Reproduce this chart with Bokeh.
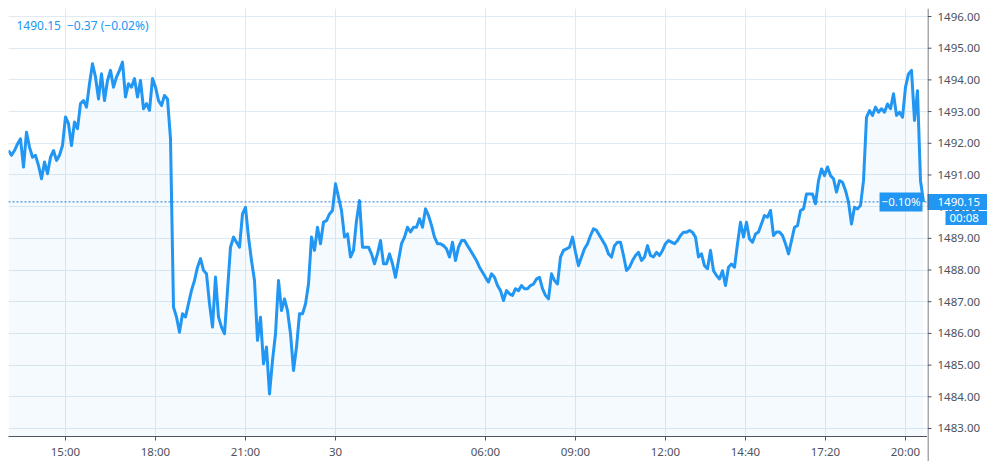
import numpy as np
from bokeh.plotting import figure
from bokeh.layouts import row
from bokeh.models import FixedTicker, Span, Label, Range1d
from bokeh.embed import file_html
from bokeh.resources import INLINE

# ---- data -------------------------------------------------------------
session_start = "13:06"   # first sample, 29th
step_min = 6              # minutes between samples (trading time)

price = [
    1491.77, 1491.62, 1491.77, 1491.98, 1492.14, 1491.25, 1492.35, 1491.88, 1491.56, 1491.62,
    1491.30, 1490.88, 1491.41, 1491.04, 1491.56, 1491.77, 1491.46, 1491.62, 1491.93, 1492.83,
    1492.62, 1491.93, 1492.67, 1492.46, 1493.25, 1493.35, 1493.14, 1493.88, 1494.51, 1494.09,
    1493.40, 1494.19, 1493.35, 1493.98, 1494.30, 1493.77, 1494.09, 1494.30, 1494.56, 1493.46,
    1493.88, 1493.77, 1494.04, 1493.46, 1493.98, 1493.09, 1493.25, 1493.04, 1494.04, 1493.77,
    1493.35, 1493.19, 1493.51, 1493.40, 1492.14, 1486.83, 1486.52, 1486.04, 1486.62, 1486.52,
    1486.94, 1487.36, 1487.67, 1488.09, 1488.36, 1487.99, 1487.88, 1486.94, 1486.20, 1487.78,
    1486.52, 1486.20, 1485.99, 1487.36, 1488.72, 1489.04, 1488.88,
    1488.72, 1489.77, 1489.98, 1489.04, 1488.30, 1487.67, 1485.78, 1486.51, 1485.04, 1485.57,
    1484.09, 1485.15, 1485.99, 1487.67, 1486.72, 1487.09, 1486.72, 1485.99, 1484.83, 1485.57,
    1486.62, 1486.62, 1486.93, 1487.56, 1489.04, 1488.62, 1489.35, 1488.83, 1489.51, 1489.56,
    1489.77, 1489.88, 1490.72, 1490.30, 1489.88, 1489.04, 1489.14, 1488.41, 1488.62, 1489.56,
    1490.19, 1488.72, 1488.72, 1488.72, 1488.51, 1488.20, 1488.51, 1488.93, 1488.20, 1488.20,
    1488.51, 1488.20, 1487.77, 1488.30, 1488.83, 1489.04, 1489.35, 1489.20, 1489.35, 1489.35,
    1489.62, 1489.35, 1489.93, 1489.72, 1489.41, 1489.04, 1488.83, 1488.83, 1488.77, 1488.67,
    1488.41, 1488.88, 1488.30, 1488.72, 1488.93, 1488.93,
    1488.77, 1488.62, 1488.46, 1488.30, 1488.09, 1487.93, 1487.77, 1487.62, 1487.88, 1487.77,
    1487.51, 1487.35, 1487.04, 1487.35, 1487.25, 1487.20, 1487.41, 1487.35, 1487.51, 1487.41,
    1487.41, 1487.51, 1487.56, 1487.72, 1487.77, 1487.41, 1487.20, 1487.09, 1487.88, 1487.67,
    1487.56, 1488.41, 1488.62, 1488.67, 1488.72, 1489.04, 1488.56, 1488.14, 1488.41, 1488.67,
    1488.83, 1489.09, 1489.30, 1489.25, 1489.09, 1488.93, 1488.77, 1488.51, 1488.41, 1488.77,
    1488.88, 1488.88, 1488.46, 1487.99, 1488.09, 1488.30, 1488.46, 1488.56, 1488.30, 1488.41,
    1488.77, 1488.46, 1488.41, 1488.56, 1488.46, 1488.62, 1488.83, 1488.93, 1488.88, 1488.83,
    1488.93, 1489.09, 1489.19, 1489.19, 1489.25, 1489.19,
    1489.04, 1488.41, 1488.51, 1488.14, 1488.04, 1488.62, 1487.98, 1487.83, 1487.72, 1487.98,
    1487.51, 1488.09, 1488.19, 1488.09, 1488.83, 1489.51, 1489.04, 1489.51, 1488.98, 1488.88,
    1489.14, 1489.20, 1489.46, 1489.72, 1489.67, 1489.88, 1489.09, 1489.20, 1489.20, 1489.09,
    1488.83, 1488.51, 1488.93, 1489.35, 1489.40, 1489.88, 1489.93, 1490.40, 1490.40, 1490.40,
    1490.09, 1490.82, 1491.19, 1490.98, 1491.25, 1490.98, 1490.88, 1490.46, 1490.82, 1490.77,
    1490.51, 1490.14, 1489.45, 1489.98, 1489.93, 1490.04, 1490.82, 1492.82, 1493.03, 1492.88,
    1493.14, 1492.98, 1493.09, 1492.98, 1493.24, 1493.09, 1493.56, 1492.88, 1492.98, 1492.82,
    1493.77, 1494.19, 1494.30, 1492.72, 1493.66, 1490.82, 1490.15,
]

# x tick positions in trading minutes after session_start (1h break skipped before 06:00)
tick_minutes = [114, 294, 474, 654, 954, 1134, 1314, 1474, 1634, 1794]
tick_labels = ["15:00", "18:00", "21:00", "30", "06:00", "09:00", "12:00", "14:40", "17:20", "20:00"]

y_ticks = [1483, 1484, 1485, 1486, 1487, 1488, 1489, 1490, 1491, 1492, 1493, 1494, 1495, 1496]

last_price = 1490.15
header_text = "1490.15\u2002\u22120.37 (\u22120.02%)"
pct_text = "\u22120.10%"
countdown = "00:08"

# ---- styling -----------------------------------------------------------
BLUE = "#2196f3"
GRID = "#e0eaf2"
AXIS = "#50535e"
TXT = "#4c525e"
FONT = "Noto Sans"
FS = "11.5px"

FRAME_H = 428
BOTTOM = 25
TOP = 8
S = 31.69                       # pixels per price unit
Y0 = y_ticks[0] - 8 / S
Y1 = y_ticks[-1] + 8 / S
X_END = 1838

x = np.arange(len(price)) * step_min

# ---- main chart ------------------------------------------------------------
p = figure(frame_width=919, frame_height=FRAME_H, output_backend="svg", toolbar_location=None,
           x_range=Range1d(0, X_END), y_range=Range1d(Y0, Y1), y_axis_location=None,
           min_border_left=8, min_border_top=TOP, min_border_bottom=BOTTOM, min_border_right=0)
p.outline_line_color = None
p.background_fill_color = "white"
p.border_fill_color = "white"

p.varea(x=x, y1=Y0, y2=price, fill_color=BLUE, fill_alpha=0.05)
p.line(x, price, line_color=BLUE, line_width=3, line_join="round")

p.add_layout(Span(location=last_price, dimension="width", line_color="#1f78d1",
                  line_width=1, line_dash="2 2"))

xa = p.xaxis[0]
xa.ticker = FixedTicker(ticks=tick_minutes)
xa.major_label_overrides = {t: l for t, l in zip(tick_minutes, tick_labels)}
xa.axis_line_color = AXIS
xa.major_tick_line_color = AXIS
xa.minor_tick_line_color = None
xa.major_tick_in = 0
xa.major_tick_out = 4
xa.major_label_text_color = TXT
xa.major_label_text_font = FONT
xa.major_label_text_font_size = FS
xa.major_label_standoff = 3

p.xgrid.ticker = FixedTicker(ticks=tick_minutes)
p.xgrid.grid_line_color = GRID
p.ygrid.ticker = FixedTicker(ticks=y_ticks)
p.ygrid.grid_line_color = GRID

p.add_layout(Label(x=8, y=FRAME_H - 17, x_units="screen", y_units="screen", text=header_text,
                   text_color=BLUE, text_font=FONT, text_font_size="12px",
                   text_baseline="middle"))
p.add_layout(Label(x=914, y=last_price, x_units="screen", text=pct_text, text_color="white",
                   text_font=FONT, text_font_size=FS, text_align="right",
                   text_baseline="middle", background_fill_color=BLUE, padding=2))

# ---- price scale (right side) ---------------------------------------------
SW = 60
q = figure(frame_width=SW, frame_height=FRAME_H + BOTTOM, output_backend="svg",
           toolbar_location=None, x_range=Range1d(0, SW),
           y_range=Range1d(Y0 - BOTTOM / S, Y1),
           x_axis_location=None, y_axis_location=None,
           min_border_left=0, min_border_top=TOP, min_border_bottom=0, min_border_right=0)
q.outline_line_color = None
q.grid.visible = False
q.background_fill_color = "white"
q.border_fill_color = "white"

q.add_layout(Span(location=0.5, dimension="height", line_color=AXIS, line_width=1))
q.segment(x0=0, x1=4, y0=y_ticks, y1=y_ticks, line_color=AXIS, line_width=1)
q.text(x=10, y=y_ticks, text=[f"{t:.2f}" for t in y_ticks], text_color=TXT,
       text_font={"value": FONT}, text_font_size=FS, text_baseline="middle")

# last-price tag and countdown tag
q.quad(left=-1, right=SW + 1, bottom=last_price - 8 / S, top=last_price + 8 / S,
       fill_color=BLUE, line_color=None)
q.text(x=10, y=[last_price], text=[f"{last_price:.2f}"], text_color="white",
       text_font={"value": FONT}, text_font_size=FS, text_baseline="middle")
q.quad(left=18, right=SW + 1, bottom=last_price - 23 / S, top=last_price - 9 / S,
       fill_color=BLUE, line_color=None)
q.text(x=22, y=[last_price - 16 / S], text=[countdown], text_color="white",
       text_font={"value": FONT}, text_font_size=FS, text_baseline="middle")

layout = row(p, q, spacing=0)
open("out.html", "w").write(file_html(layout, INLINE))
